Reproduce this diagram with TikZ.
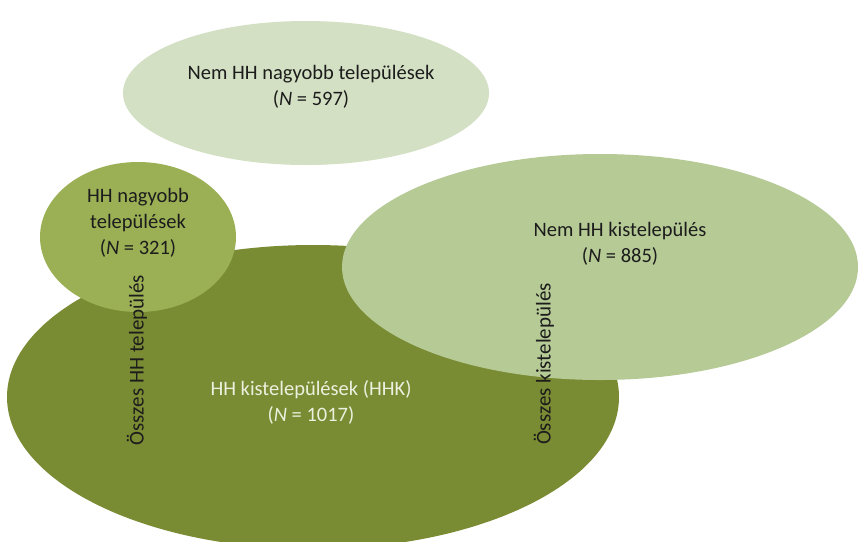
\documentclass[tikz,border=0pt]{standalone}
\usepackage{fontspec}
\setmainfont{Carlito}
\usetikzlibrary{shapes.geometric}
\definecolor{topfill}{HTML}{D3E0C3}
\definecolor{darkfill}{HTML}{7A8C33}
\definecolor{midfill}{HTML}{9BB055}
\definecolor{lightfill}{HTML}{B6CA95}
\definecolor{txtdark}{HTML}{1C1C1C}
\definecolor{txtlight}{HTML}{ECF0DF}
\begin{document}
\begin{tikzpicture}[x=1pt,y=-1pt,
  blob/.style={ellipse, draw=none, inner sep=0pt},
  lbl/.style={align=center, font=\fontsize{20.5}{26}\selectfont, text=txtdark, inner sep=0pt},
  vlbl/.style={font=\fontsize{21}{24}\selectfont, text=txtdark, rotate=90, inner sep=0pt}]
\useasboundingbox[fill=white] (0,0) rectangle (858,541);
\node[blob, fill=topfill, minimum width=366pt, minimum height=144pt] (top) at (306,93) {};
\node[blob, fill=darkfill, minimum width=612pt, minimum height=304pt] (big) at (313,397) {};
\node[blob, fill=midfill, minimum width=196pt, minimum height=150pt] (hhn) at (138,237) {};
\node[blob, fill=lightfill, minimum width=516pt, minimum height=226pt] (nemk) at (600,267) {};
\node[lbl] (t1) at (311,87) {Nem HH nagyobb települések\\(\textit{N} = 597)};
\node[lbl] (t2) at (138,223) {HH nagyobb\\települések\\(\textit{N} = 321)};
\node[lbl] (t3) at (620,244) {Nem HH kistelepülés\\(\textit{N} = 885)};
\node[lbl, text=txtlight] (t4) at (311,402) {HH kistelepülések (HHK)\\(\textit{N} = 1017)};
\node[vlbl] (v1) at (137,360) {Összes HH település};
\node[vlbl] (v2) at (544,364) {Összes kistelepülés};
\end{tikzpicture}
\end{document}
